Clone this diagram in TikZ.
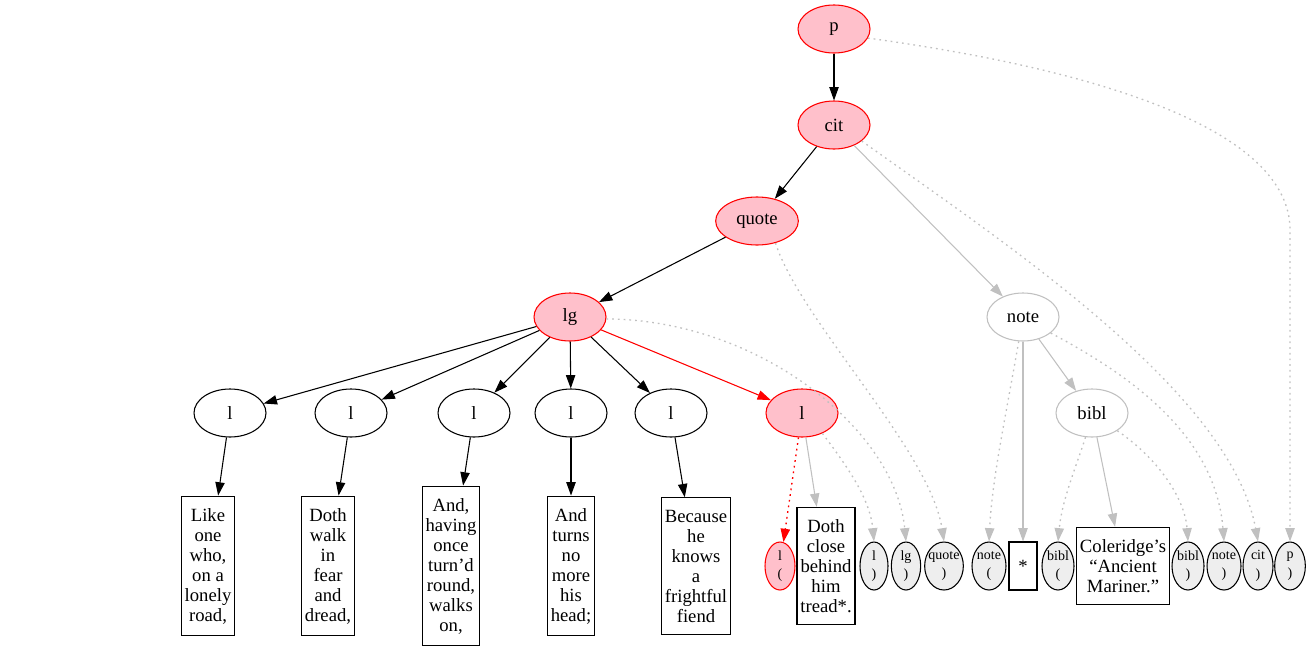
\documentclass[tikz,border=0pt]{standalone}
\usepackage{fontspec}
\setmainfont{Liberation Serif}
\usepackage{xcolor}
\definecolor{teiPink}{HTML}{FFC0CB}
\definecolor{teiRed}{HTML}{FF0000}
\definecolor{teiGray}{HTML}{C0C0C0}
\definecolor{teiTag}{HTML}{EEEEEE}
\usepackage{tikz}
\usetikzlibrary{arrows.meta,shapes.geometric}

\begin{document}
\begin{tikzpicture}[x=0.75pt,y=-0.75pt,>={Triangle[length=10pt,width=7pt]},line width=0.8pt,
  font=\fontsize{14}{15}\selectfont,
  elem/.style={ellipse,draw,minimum width=54pt,minimum height=36pt,inner sep=2pt},
  hot/.style={elem,draw=teiRed,fill=teiPink},
  side/.style={elem,draw=teiGray},
  verse/.style={draw,align=center,inner xsep=2.5pt,inner ysep=9pt},
  tag/.style={ellipse,draw,fill=teiTag,minimum width=#1,minimum height=36pt,inner xsep=-4pt,inner ysep=-2pt,align=center,font=\fontsize{10.5}{14}\selectfont},
  link/.style={->,teiGray},
  skip/.style={->,teiGray,line width=1pt,dash pattern=on 1.3pt off 3pt}]
  \path[use as bounding box] (0,0) rectangle (1309,653);

  \node[hot] (p) at (834,29) {p};
  \node[hot] (cit) at (834,125) {cit};
  \node[hot,minimum width=62pt] (quote) at (757,221) {quote};
  \node[hot] (lg) at (570,317) {lg};
  \node[side] (note) at (1023,317) {note};
  \node[side] (bibl) at (1092,413) {bibl};

  \node[elem] (l1) at (230,413) {l};
  \node[elem] (l2) at (351,413) {l};
  \node[elem] (l3) at (474,413) {l};
  \node[elem] (l4) at (571,413) {l};
  \node[elem] (l5) at (671,413) {l};
  \node[hot] (l6) at (802,413) {l};

  \node[verse] (v1) at (208,566) {Like\\one\\who,\\on a\\lonely\\road,};
  \node[verse] (v2) at (328,566) {Doth\\walk\\in\\fear\\and\\dread,};
  \node[verse] (v3) at (451,566) {And,\\having\\once\\turn’d\\round,\\walks\\on,};
  \node[verse] (v4) at (571,566) {And\\turns\\no\\more\\his\\head;};
  \node[verse] (v5) at (696,566) {Because\\he\\knows\\a\\frightful\\fiend};

  \node[tag=22.5pt,draw=teiRed,fill=teiPink] (lo) at (780,566) {l\\(};
  \node[verse] (v6) at (826,566) {Doth\\close\\behind\\him\\tread*.};
  \node[tag=21pt] (lc) at (874,566) {l\\)};
  \node[tag=22pt] (lgc) at (906,566) {lg\\)};
  \node[tag=29pt] (quotec) at (944,566) {quote\\)};
  \node[tag=25.5pt] (noteo) at (989,566) {note\\(};
  \node[verse,minimum width=21pt,minimum height=36pt] (star) at (1023,566) {*};
  \node[tag=24pt] (biblo) at (1058,566) {bibl\\(};
  \node[verse] (cole) at (1123,566) {Coleridge’s\\“Ancient\\Mariner.”};
  \node[tag=24pt] (biblc) at (1188,566) {bibl\\)};
  \node[tag=25.5pt] (notec) at (1224,566) {note\\)};
  \node[tag=22.5pt] (citc) at (1258,566) {cit\\)};
  \node[tag=23pt] (pc) at (1290,566) {p\\)};

  \draw[->] (p) -- (cit);
  \draw[->] (cit) -- (quote);
  \draw[->] (quote) -- (lg);
  \draw[link] (cit) -- (note);

  \draw[->] (lg) -- (l1);
  \draw[->] (lg) -- (l2);
  \draw[->] (lg) -- (l3);
  \draw[->] (lg) -- (l4);
  \draw[->] (lg) -- (l5);
  \draw[->,teiRed] (lg) -- (l6);

  \draw[->] (l1) -- (v1);
  \draw[->] (l2) -- (v2);
  \draw[->] (l3) -- (v3);
  \draw[->] (l4) -- (v4);
  \draw[->] (l5) -- (v5);

  \draw[skip,teiRed] (l6) -- (lo);
  \draw[link] (l6) -- (v6);
  \draw[skip] (l6.-45) .. controls (850,470) and (870,500) .. (lc.north);
  \draw[skip] (lg.-3) .. controls (760,320) and (895,430) .. (lgc.north);
  \draw[skip] (quote.-50) .. controls (800,320) and (930,450) .. (quotec.north);
  \draw[skip] (cit.-30) .. controls (1000,240) and (1230,390) .. (citc.north);
  \draw[skip] (p.-15) .. controls (1100,70) and (1290,130) .. (1290,230) -- (pc.north);

  \draw[skip] (note.-100) .. controls (1005,420) and (992,480) .. (noteo.north);
  \draw[link] (note) -- (star);
  \draw[link] (note) -- (bibl);
  \draw[skip] (note.-30) .. controls (1120,370) and (1215,430) .. (notec.north);
  \draw[skip] (bibl.-105) .. controls (1075,470) and (1062,500) .. (biblo.north);
  \draw[link] (bibl) -- (cole);
  \draw[skip] (bibl.-35) .. controls (1160,460) and (1185,500) .. (biblc.north);
\end{tikzpicture}
\end{document}
